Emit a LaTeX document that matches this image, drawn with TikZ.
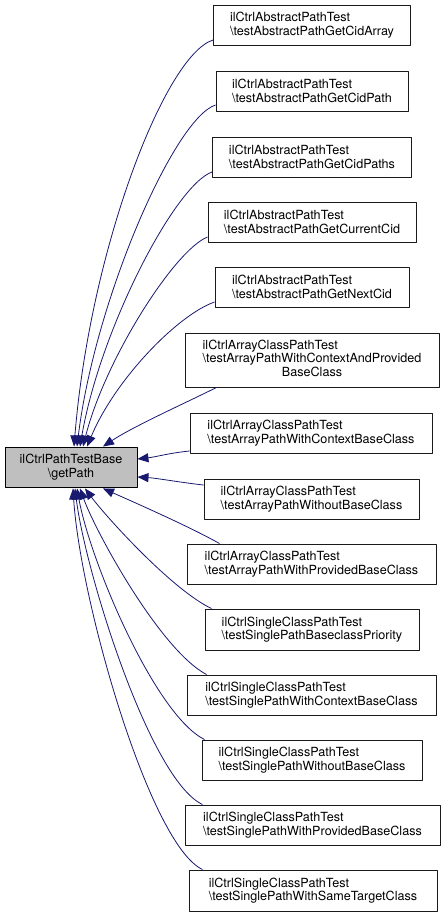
\documentclass[tikz,border=0pt]{standalone}
\usepackage{fontspec}
\setmainfont{TeX Gyre Heros}
\usepackage{tikz}
\usetikzlibrary{arrows.meta,calc}
\definecolor{dxedge}{HTML}{191970}
\definecolor{dxbase}{HTML}{BFBFBF}
\definecolor{dxline}{HTML}{1A1A1A}

\begin{document}
\begin{tikzpicture}[x=1pt,y=-1pt,line join=round,
  font=\fontsize{12.6}{13.6}\selectfont,
  cls/.style={draw=dxline,line width=.9pt,fill=white,align=left,
    inner sep=0pt,minimum height=40},
  base/.style={draw=black,line width=.9pt,fill=dxbase,align=center,
    inner sep=0pt,minimum width=132,minimum height=40},
  inh/.style={dxedge,line width=.8pt,-{Triangle[length=11pt,width=9pt]}}]
\path[use as bounding box] (0,0) rectangle (444,917);
\fill[white] (0,0) rectangle (444,917);
% the called method
\node[base] (getpath) at (71,467) {ilCtrlPathTestBase\\\textbackslash getPath};
% callers, one column
\node[cls,minimum width=197] (cidarray) at (312,25) {ilCtrlAbstractPathTest\\\textbackslash testAbstractPathGetCidArray};
\node[cls,minimum width=192] (cidpath) at (312,91) {ilCtrlAbstractPathTest\\\textbackslash testAbstractPathGetCidPath};
\node[cls,minimum width=199] (cidpaths) at (312,157) {ilCtrlAbstractPathTest\\\textbackslash testAbstractPathGetCidPaths};
\node[cls,minimum width=208] (currentcid) at (312,222) {ilCtrlAbstractPathTest\\\textbackslash testAbstractPathGetCurrentCid};
\node[cls,minimum width=194] (nextcid) at (312,287) {ilCtrlAbstractPathTest\\\textbackslash testAbstractPathGetNextCid};
\node[cls,minimum width=254,minimum height=54] (arrctxprov) at (312,360)
  {\begin{tabular}{@{}l@{}}ilCtrlArrayClassPathTest\\\textbackslash testArrayPathWithContextAndProvided\\\multicolumn{1}{@{}c@{}}{BaseClass}\end{tabular}};
\node[cls,minimum width=242] (arrctx) at (311,433) {ilCtrlArrayClassPathTest\\\textbackslash testArrayPathWithContextBaseClass};
\node[cls,minimum width=215] (arrnobase) at (311.5,499) {ilCtrlArrayClassPathTest\\\textbackslash testArrayPathWithoutBaseClass};
\node[cls,minimum width=249] (arrprov) at (311.5,564) {ilCtrlArrayClassPathTest\\\textbackslash testArrayPathWithProvidedBaseClass};
\node[cls,minimum width=214,minimum height=41] (sglprio) at (312,629.5) {ilCtrlSingleClassPathTest\\\textbackslash testSinglePathBaseclassPriority};
\node[cls,minimum width=249] (sglctx) at (311.5,695) {ilCtrlSingleClassPathTest\\\textbackslash testSinglePathWithContextBaseClass};
\node[cls,minimum width=220] (sglnobase) at (312,760) {ilCtrlSingleClassPathTest\\\textbackslash testSinglePathWithoutBaseClass};
\node[cls,minimum width=255] (sglprov) at (312.5,825) {ilCtrlSingleClassPathTest\\\textbackslash testSinglePathWithProvidedBaseClass};
\node[cls,minimum width=248,minimum height=41] (sglsame) at (313,890.5) {ilCtrlSingleClassPathTest\\\textbackslash testSinglePathWithSameTargetClass};
% edges into the top of getpath
\draw[inh] ($(cidarray.west)+(0,15)$) .. controls +(-48,15) and +(16,-197) .. ($(getpath.north)+(3,0)$);
\draw[inh] ($(cidpath.west)+(0,14)$) .. controls +(-41,13) and +(18,-147) .. ($(getpath.north)+(6,0)$);
\draw[inh] ($(cidpaths.west)+(0,15)$) .. controls +(-37,13) and +(20,-117) .. ($(getpath.north)+(9,0)$);
\draw[inh] ($(currentcid.west)+(0,15)$) .. controls +(-33,13) and +(22,-87) .. ($(getpath.north)+(12,0)$);
\draw[inh] ($(nextcid.west)+(0,15)$) .. controls +(-37,13) and +(28,-67) .. ($(getpath.north)+(16,0)$);
\draw[inh] ($(arrctxprov.south west)+(32,0)$) .. controls +(-30,15) and +(30,-20) .. ($(getpath.north)+(32,0)$);
% edges into the right side
\draw[inh] ($(arrctx.west)+(0,18)$) .. controls +(-20,2) and +(18,-2) .. ($(getpath.east)+(0,-8)$);
\draw[inh] ($(arrnobase.west)+(0,-14)$) .. controls +(-19,-2) and +(18,1) .. ($(getpath.east)+(0,10)$);
% edges into the bottom
\draw[inh] ($(arrprov.north west)+(33,0)$) .. controls +(-30,-17) and +(27,12) .. ($(getpath.south)+(32,1)$);
\draw[inh] ($(sglprio.north west)+(7,0)$) .. controls +(-40,-19) and +(20,27) .. ($(getpath.south)+(14,1)$);
\draw[inh] ($(sglctx.north west)+(20,0)$) .. controls +(-47,-25) and +(15,42) .. ($(getpath.south)+(9,1)$);
\draw[inh] ($(sglnobase.north west)+(3,0)$) .. controls +(-50,-25) and +(13,72) .. ($(getpath.south)+(6,1)$);
\draw[inh] ($(sglprov.north west)+(18,0)$) .. controls +(-53,-25) and +(10,82) .. ($(getpath.south)+(4,1)$);
\draw[inh] ($(sglsame.north west)+(14,0)$) .. controls +(-53,-25) and +(7,112) .. ($(getpath.south)+(2,1)$);
\end{tikzpicture}
\end{document}
